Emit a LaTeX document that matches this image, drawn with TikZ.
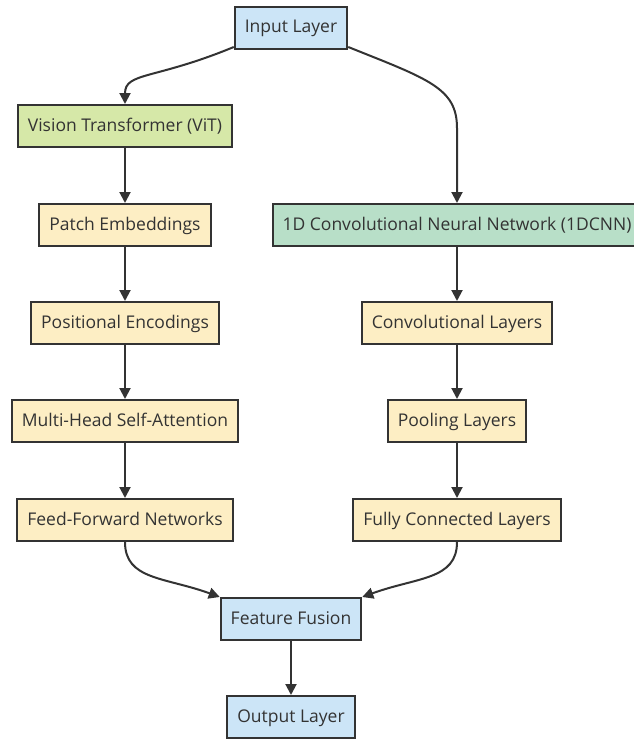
\documentclass[tikz,border=0pt]{standalone}
\usepackage{fontspec}
\setmainfont{Open Sans}
\usetikzlibrary{arrows.meta,positioning}
\definecolor{ioblue}{HTML}{CCE5F7}
\definecolor{vitgreen}{HTML}{D6E8A8}
\definecolor{cnngreen}{HTML}{B8DFC8}
\definecolor{stepyellow}{HTML}{FDEEC4}
\definecolor{edgegray}{HTML}{333333}
\tikzset{
  layerbox/.style={rectangle,draw=edgegray,line width=2pt,text=edgegray,
    minimum height=42pt,inner xsep=10pt,inner ysep=2pt,text depth=0.25em,
    font=\fontsize{17.5}{20}\selectfont},
  iobox/.style={layerbox,fill=ioblue},
  vitbox/.style={layerbox,fill=vitgreen},
  cnnbox/.style={layerbox,fill=cnngreen},
  partbox/.style={layerbox,fill=stepyellow},
  flow/.style={draw=edgegray,line width=2pt,-{Triangle[length=11pt,width=11pt]}}
}

\begin{document}
\begin{tikzpicture}[x=1pt,y=-1pt]
\useasboundingbox (0,0) rectangle (634,739);
% \draw[help lines] (0,0) grid[step=50] (634,739);
\node (in) [iobox] at (291,28) {Input Layer};
\node (vit) [vitbox] at (125,126) {Vision Transformer (ViT)};
\node (patch) [partbox] at (125,225) {Patch Embeddings};
\node (pos) [partbox] at (125,323) {Positional Encodings};
\node (mhsa) [partbox] at (125,421) {Multi-Head Self-Attention};
\node (ffn) [partbox] at (125,520) {Feed-Forward Networks};
\node (cnn) [cnnbox] at (457,225) {1D Convolutional Neural Network (1DCNN)};
\node (conv) [partbox] at (457,323) {Convolutional Layers};
\node (pool) [partbox] at (457,421) {Pooling Layers};
\node (fc) [partbox] at (457,520) {Fully Connected Layers};
\node (fus) [iobox] at (291,619) {Feature Fusion};
\node (out) [iobox] at (291,717) {Output Layer};
%
\path[flow] ([yshift=3pt]in.south west) .. controls +(-80,33) and +(0,-32) .. (vit.north);
\path[flow] ([yshift=3pt]in.south east) .. controls +(80,32) and +(0,-40) .. ([yshift=75pt]cnn.north) -- (cnn.north);
\path[flow] (vit) -- (patch);
\path[flow] (patch) -- (pos);
\path[flow] (pos) -- (mhsa);
\path[flow] (mhsa) -- (ffn);
\path[flow] (cnn) -- (conv);
\path[flow] (conv) -- (pool);
\path[flow] (pool) -- (fc);
\path[flow] (ffn.south) .. controls +(0,38) and +(-55,-20) .. (fus.north west);
\path[flow] (fc.south) .. controls +(0,38) and +(55,-20) .. (fus.north east);
\path[flow] (fus) -- (out);
\end{tikzpicture}
\end{document}
